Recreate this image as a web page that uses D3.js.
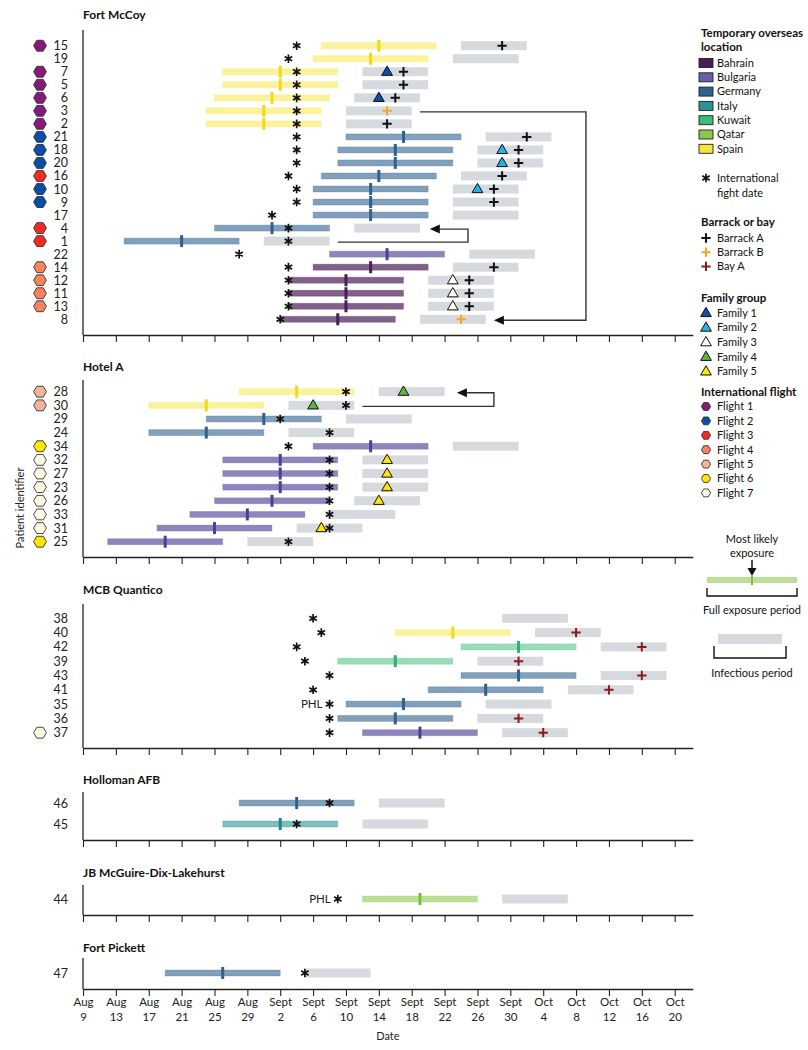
<!DOCTYPE html>
<html><head><meta charset="utf-8">
<script src="https://cdn.jsdelivr.net/npm/d3@7"></script>
<style>
body{margin:0;background:#fff;}
svg{display:block;font-family:Lato,"Open Sans",sans-serif;}
</style>
</head><body>
<svg id="chart" width="808" height="1050"></svg>
<script>
// ---------------- DATA ----------------
// Day offsets are counted from 9 Aug 2020 (day 0).
const startDate = new Date(Date.UTC(2020, 7, 9));
const tickDays = [0,4,8,12,16,20,24,28,32,36,40,44,48,52,56,60,64,68,72];
const tickLabels = ["Aug 9","Aug 13","Aug 17","Aug 21","Aug 25","Aug 29","Sept 2","Sept 6","Sept 10","Sept 14","Sept 18","Sept 22","Sept 26","Sept 30","Oct 4","Oct 8","Oct 12","Oct 16","Oct 20"];

const locations = ["Bahrain","Bulgaria","Germany","Italy","Kuwait","Qatar","Spain"];
const locationColors = ["#4b1c58","#6a5ea8","#2f618d","#2a9393","#3dbb7a","#8cc64c","#f7e63a"];
const markerColors   = ["#4b1c58","#4e3f96","#2f618d","#1f8585","#2fb06c","#7cc03a","#f2d81a"];

const flights = ["Flight 1","Flight 2","Flight 3","Flight 4","Flight 5","Flight 6","Flight 7"];
const flightColors = ["#86197c","#0b4ea8","#ef2b22","#f5845e","#f6b39c","#ffe500","#fdf8e2"];

const families = ["Family 1","Family 2","Family 3","Family 4","Family 5"];
const familyColors = ["#0f4fa5","#1fb6e3","#ffffff","#5fb43a","#ffe500"];

const barracks = ["Barrack A","Barrack B","Bay A"];
const barrackColors = ["#111111","#f5a623","#8b1a1a"];

// [id, flight(0=none), location, exposure start, most likely, exposure end,
//  infectious start, infectious end, international flight date,
//  barrack/bay, barrack day, family(0=none), family day, note]
const fortMcCoy = [
  ["15",1,"Spain",29,36,43,46,54,26,"Barrack A",51,0,null],
  ["19",0,"Spain",28,35,42,45,53,25,null,null,0,null],
  ["7",1,"Spain",17,24,31,34,42,26,"Barrack A",39,1,37],
  ["5",1,"Spain",17,24,31,34,42,26,"Barrack A",39,0,null],
  ["6",1,"Spain",16,23,30,33,41,26,"Barrack A",38,1,36],
  ["3",1,"Spain",15,22,29,32,40,26,"Barrack B",37,0,null],
  ["2",1,"Spain",15,22,29,32,40,26,"Barrack A",37,0,null],
  ["21",2,"Germany",32,39,46,49,57,26,"Barrack A",54,0,null],
  ["18",2,"Germany",31,38,45,48,56,26,"Barrack A",53,2,51],
  ["20",2,"Germany",31,38,45,48,56,26,"Barrack A",53,2,51],
  ["16",3,"Germany",29,36,43,46,54,25,"Barrack A",51,0,null],
  ["10",2,"Germany",28,35,42,45,53,26,"Barrack A",50,2,48],
  ["9",2,"Germany",28,35,42,45,53,26,"Barrack A",50,0,null],
  ["17",0,"Germany",28,35,42,45,53,23,null,null,0,null],
  ["4",3,"Germany",16,23,30,33,41,25,null,null,0,null],
  ["1",3,"Germany",5,12,19,22,30,25,null,null,0,null],
  ["22",0,"Bulgaria",30,37,44,47,55,19,null,null,0,null],
  ["14",4,"Bahrain",28,35,42,45,53,25,"Barrack A",50,0,null],
  ["12",4,"Bahrain",25,32,39,42,50,25,"Barrack A",47,3,45],
  ["11",4,"Bahrain",25,32,39,42,50,25,"Barrack A",47,3,45],
  ["13",4,"Bahrain",25,32,39,42,50,25,"Barrack A",47,3,45],
  ["8",0,"Bahrain",24,31,38,41,49,24,"Barrack B",46,0,null]
];
const hotelA = [
  ["28",5,"Spain",19,26,33,36,44,32,null,null,4,39],
  ["30",5,"Spain",8,15,22,25,33,32,null,null,4,28],
  ["29",0,"Germany",15,22,29,32,40,24,null,null,0,null],
  ["24",0,"Germany",8,15,22,25,33,30,null,null,0,null],
  ["34",6,"Bulgaria",28,35,42,45,53,25,null,null,0,null],
  ["32",7,"Bulgaria",17,24,31,34,42,30,null,null,5,37],
  ["27",7,"Bulgaria",17,24,31,34,42,30,null,null,5,37],
  ["23",7,"Bulgaria",17,24,31,34,42,30,null,null,5,37],
  ["26",7,"Bulgaria",16,23,30,33,41,30,null,null,5,36],
  ["33",7,"Bulgaria",13,20,27,30,38,30,null,null,0,null],
  ["31",7,"Bulgaria",9,16,23,26,34,30,null,null,5,29],
  ["25",6,"Bulgaria",3,10,17,20,28,25,null,null,0,null]
];
const mcbQuantico = [
  ["38",0,null,null,null,null,51,59,28,null,null,0,null],
  ["40",0,"Spain",38,45,52,55,63,29,"Bay A",60,0,null],
  ["42",0,"Kuwait",46,53,60,63,71,26,"Bay A",68,0,null],
  ["39",0,"Kuwait",31,38,45,48,56,27,"Bay A",53,0,null],
  ["43",0,"Germany",46,53,60,63,71,30,"Bay A",68,0,null],
  ["41",0,"Germany",42,49,56,59,67,28,"Bay A",64,0,null],
  ["35",0,"Germany",32,39,46,49,57,30,null,null,0,null,"PHL"],
  ["36",0,"Germany",31,38,45,48,56,30,"Bay A",53,0,null],
  ["37",7,"Bulgaria",34,41,48,51,59,30,"Bay A",56,0,null]
];
const hollomanAFB = [
  ["46",0,"Germany",19,26,33,36,44,30,null,null,0,null],
  ["45",0,"Italy",17,24,31,34,42,26,null,null,0,null]
];
const jbMcGuire = [
  ["44",0,"Qatar",34,41,48,51,59,31,null,null,0,null,"PHL"]
];
const fortPickett = [
  ["47",0,"Germany",10,17,24,27,35,27,null,null,0,null]
];
const sectionNames = ["Fort McCoy","Hotel A","MCB Quantico","Holloman AFB","JB McGuire-Dix-Lakehurst","Fort Pickett"];
const sectionRows = [fortMcCoy, hotelA, mcbQuantico, hollomanAFB, jbMcGuire, fortPickett];

// transmission arrows: [section index, from patient, to patient, start day, turn day, arrow tip day]
const arrows = [
  [0,"3","8",41,61.2,50],
  [0,"1","4",31,46.85,42.2],
  [1,"30","28",34,50,45.5]
];

// ---------------- STYLE / LAYOUT ----------------
const barOpacity = [0.7,0.76,0.6,0.6,0.52,0.58,0.5];
const layout = [
  {titleY:15, top:30, bottom:335, first:45.7, last:319.3},
  {titleY:367, top:380, bottom:557, first:391.7, last:541.7},
  {titleY:590, top:604, bottom:748, first:618.3, last:732.7},
  {titleY:780, top:792, bottom:840, first:803, last:824},
  {titleY:873, top:885, bottom:915, first:899, last:899},
  {titleY:948, top:958, bottom:989, first:973, last:973}
];
const axisX = 83, pxPerDay = 8.218, axisEndDay = 74.2;
const toDate = d => new Date(startDate.getTime() + d * 864e5);

const svg = d3.select("#chart");
const x = d3.scaleUtc()
  .domain([startDate, toDate(axisEndDay)])
  .range([axisX, axisX + axisEndDay * pxPerDay]);
const X = d => x(toDate(d));
const locColor = d3.scaleOrdinal(locations, locationColors);
const locMarker = d3.scaleOrdinal(locations, markerColors);
const locOpacity = d3.scaleOrdinal(locations, barOpacity);
const flightColor = d3.scaleOrdinal(d3.range(1,8), flightColors);
const familyColor = d3.scaleOrdinal(d3.range(1,6), familyColors);
const barrackColor = d3.scaleOrdinal(barracks, barrackColors);

function hexPoints(cx, cy, r){
  return d3.range(6).map(k => {
    const a = Math.PI/3*k;
    return [cx + r*Math.cos(a), cy + r*Math.sin(a)*0.98];
  }).map(p=>p.join(",")).join(" ");
}
const starPath = d3.symbol(d3.symbolAsterisk, 52)();
const plusPath = d3.symbol(d3.symbolPlus, 30)();
const triPath = d3.symbol(d3.symbolTriangle, 50)();

function drawStar(g, cx, cy){
  g.append("path").attr("d", starPath).attr("transform", `translate(${cx},${cy})`)
    .attr("fill","none").attr("stroke","#111").attr("stroke-width",1.7);
}
function drawPlus(g, cx, cy, col){
  g.append("path").attr("d", plusPath).attr("transform", `translate(${cx},${cy})`)
    .attr("fill","none").attr("stroke",col).attr("stroke-width",2);
}
function drawTri(g, cx, cy, col){
  g.append("path").attr("d", triPath).attr("transform", `translate(${cx},${cy+0.5})`)
    .attr("fill",col).attr("stroke","#111").attr("stroke-width",1);
}

const rowObj = r => ({id:r[0], flight:r[1], loc:r[2], exS:r[3], exM:r[4], exE:r[5],
  infS:r[6], infE:r[7], star:r[8], barrack:r[9], barrackDay:r[10], family:r[11], familyDay:r[12], note:r[13]});

const yScales = [];
sectionRows.forEach((data, i) => {
  const L = layout[i];
  const rows = data.map(rowObj);
  const y = d3.scalePoint().domain(rows.map(r=>r.id)).range([L.first, L.last]);
  yScales.push(y);
  const g = svg.append("g");

  g.append("text").attr("x", axisX).attr("y", L.titleY).attr("dy","0.35em")
    .attr("font-size",12).attr("font-weight","bold").attr("fill","#111").text(sectionNames[i]);

  const isLast = i === sectionRows.length - 1;
  const ax = d3.axisBottom(x).tickValues(tickDays.map(toDate)).tickSize(7).tickSizeOuter(0)
    .tickFormat((d,k) => tickLabels[k]);
  const axG = g.append("g").attr("transform", `translate(0,${L.bottom})`).call(ax);
  axG.select(".domain").attr("stroke","#222").attr("stroke-width",1.3);
  axG.selectAll(".tick line").attr("stroke","#222").attr("stroke-width",1.1);
  if (!isLast) {
    axG.selectAll(".tick text").remove();
  } else {
    axG.selectAll(".tick text").each(function(){
      const t = d3.select(this); const parts = t.text().split(" ");
      t.text(null).attr("font-size",11.5).attr("fill","#222").attr("font-family","Lato,sans-serif").attr("y",9);
      t.append("tspan").attr("x",0).attr("dy","0.71em").text(parts[0]);
      t.append("tspan").attr("x",0).attr("dy","1.25em").text(parts[1]);
    });
  }
  g.append("line").attr("x1",axisX).attr("x2",axisX).attr("y1",L.top).attr("y2",L.bottom)
    .attr("stroke","#222").attr("stroke-width",1.3);

  rows.forEach(r => {
    const cy = y(r.id);
    g.append("text").attr("x",68).attr("y",cy).attr("dy","0.36em").attr("text-anchor","end")
      .attr("font-size",12.5).attr("fill","#222").text(r.id);
    if (r.flight) g.append("polygon").attr("points", hexPoints(40, cy, 6.4))
      .attr("fill", flightColor(r.flight)).attr("stroke","#333").attr("stroke-width",0.9);
  });

  g.selectAll(".inf").data(rows).join("rect")
    .attr("x", r => X(r.infS)).attr("width", r => X(r.infE)-X(r.infS))
    .attr("y", r => y(r.id)-4.5).attr("height", 9).attr("fill","#d6dade");
  const ex = rows.filter(r => r.loc);
  g.selectAll(".ex").data(ex).join("rect")
    .attr("x", r => X(r.exS)).attr("width", r => X(r.exE)-X(r.exS))
    .attr("y", r => y(r.id)-3).attr("height", 6)
    .attr("fill", r => locColor(r.loc)).attr("fill-opacity", r => locOpacity(r.loc))
    .attr("stroke", r => locColor(r.loc)).attr("stroke-opacity",0.25).attr("stroke-width",1);
  g.selectAll(".mk").data(ex).join("rect")
    .attr("x", r => X(r.exM)-1.5).attr("width", 3)
    .attr("y", r => y(r.id)-6).attr("height", 12)
    .attr("fill", r => locMarker(r.loc));
  rows.forEach(r => {
    const cy = y(r.id);
    if (r.family) drawTri(g, X(r.familyDay), cy, familyColor(r.family));
    if (r.barrack) drawPlus(g, X(r.barrackDay), cy, barrackColor(r.barrack));
    drawStar(g, X(r.star), cy);
    if (r.note) g.append("text").attr("x", X(r.star)-7).attr("y", cy).attr("dy","0.36em")
      .attr("text-anchor","end").attr("font-size",11.5).attr("fill","#222").text(r.note);
  });
});

arrows.forEach(a => {
  const y = yScales[a[0]];
  const y1 = y(a[1]) + 1, y2 = y(a[2]) + 1;
  const x1 = X(a[3]), xv = X(a[4]), tip = X(a[5]);
  svg.append("path").attr("d", `M${x1},${y1}H${xv}V${y2}H${tip+8}`)
    .attr("fill","none").attr("stroke","#333").attr("stroke-width",1.4);
  svg.append("path").attr("d", `M${tip},${y2}L${tip+10},${y2-4.5}L${tip+10},${y2+4.5}Z`).attr("fill","#111");
});

svg.append("text").attr("x", (X(0)+X(axisEndDay))/2).attr("y",1036).attr("dy","0.35em")
  .attr("text-anchor","middle").attr("font-size",11).attr("fill","#222").text("Date");
svg.append("text").attr("transform","translate(20,508) rotate(-90)").attr("dy","0.35em")
  .attr("text-anchor","middle").attr("font-size",11).attr("fill","#222").text("Patient identifier");

// ---------------- LEGEND ----------------
const lg = svg.append("g").attr("font-size",11).attr("fill","#111");
const LX = 701, SX = 706, TX = 717;
const lt = (txt, yy, bold) => lg.append("text").attr("x", bold?LX:TX).attr("y", yy).attr("dy","0.35em")
  .attr("font-weight", bold?"bold":"normal").attr("font-size", bold?11.5:11).text(txt);
lt("Temporary overseas", 33, true); lt("location", 47, true);
locations.forEach((l,k) => {
  const yy = 63 + k*14.3;
  lg.append("rect").attr("x",699).attr("y",yy-4.5).attr("width",14).attr("height",9)
    .attr("fill", locationColors[k]).attr("stroke","#222").attr("stroke-width",0.9);
  lt(l, yy);
});
drawStar(lg, SX, 178); lt("International", 178); lt("fight date", 193);
lt("Barrack or bay", 222, true);
barracks.forEach((b,k) => { const yy = 238 + k*14.2; drawPlus(lg, SX, yy, barrackColors[k]); lt(b, yy); });
lt("Family group", 298, true);
families.forEach((f,k) => { const yy = 313 + k*14.6; drawTri(lg, SX, yy, familyColors[k]); lt(f, yy); });
lt("International flight", 392, true);
flights.forEach((f,k) => {
  const yy = 406.5 + k*14.4;
  lg.append("polygon").attr("points", hexPoints(SX, yy, 4.6)).attr("fill", flightColors[k])
    .attr("stroke","#333").attr("stroke-width",0.9);
  lt(f, yy);
});
const kc = 752;
lg.append("text").attr("x",kc).attr("y",539).attr("dy","0.35em").attr("text-anchor","middle").text("Most likely");
lg.append("text").attr("x",kc).attr("y",553).attr("dy","0.35em").attr("text-anchor","middle").text("exposure");
lg.append("line").attr("x1",kc).attr("x2",kc).attr("y1",560).attr("y2",569).attr("stroke","#111").attr("stroke-width",1.5);
lg.append("path").attr("d",`M${kc-4.5},568L${kc+4.5},568L${kc},576Z`).attr("fill","#111");
lg.append("rect").attr("x",707).attr("y",577).attr("width",90).attr("height",6)
  .attr("fill",locationColors[5]).attr("fill-opacity",0.58);
lg.append("rect").attr("x",kc-1).attr("y",575).attr("width",2).attr("height",10).attr("fill",markerColors[5]);
lg.append("path").attr("d","M707,588V596H797V588").attr("fill","none").attr("stroke","#111").attr("stroke-width",1.4);
lg.append("text").attr("x",kc).attr("y",610).attr("dy","0.35em").attr("text-anchor","middle").text("Full exposure period");
lg.append("rect").attr("x",718).attr("y",634).attr("width",64).attr("height",10).attr("fill","#d6dade");
lg.append("path").attr("d","M714,646V658H786V646").attr("fill","none").attr("stroke","#111").attr("stroke-width",1.4);
lg.append("text").attr("x",kc).attr("y",673).attr("dy","0.35em").attr("text-anchor","middle").text("Infectious period");
</script>
</body></html>
